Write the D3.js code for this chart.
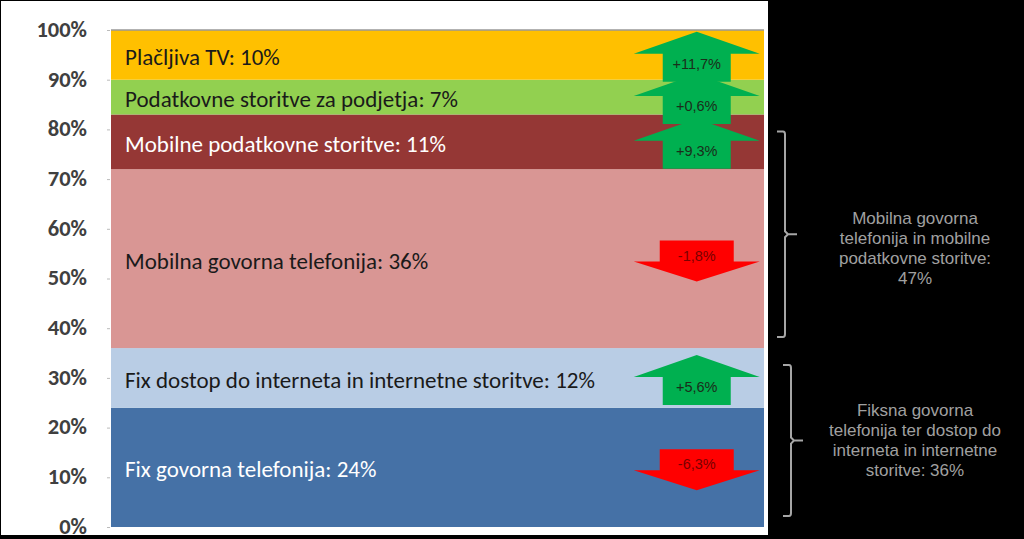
<!DOCTYPE html>
<html>
<head>
<meta charset="utf-8">
<script src="https://cdn.jsdelivr.net/npm/d3@7.9.0/dist/d3.min.js"></script>
<style>
  html, body { margin: 0; padding: 0; background: #000; }
  svg { display: block; }
</style>
</head>
<body>
<svg id="chart"></svg>
<script>
const width = 1024;
const height = 539;

// Data, bottom segment first
const categories = [
  "Fix govorna telefonija",
  "Fix dostop do interneta in internetne storitve",
  "Mobilna govorna telefonija",
  "Mobilne podatkovne storitve",
  "Podatkovne storitve za podjetja",
  "Plačljiva TV"
];
const shares = [24, 12, 36, 11, 7, 10];
const changes = [-6.3, 5.6, -1.8, 9.3, 0.6, 11.7];
const yTicks = [0, 10, 20, 30, 40, 50, 60, 70, 80, 90, 100];

// Bracket groups on the right (indexes into categories)
const groupLabels = [
  ["Fiksna govorna", "telefonija ter dostop do", "interneta in internetne", "storitve: 36%"],
  ["Mobilna govorna", "telefonija in mobilne", "podatkovne storitve:", "47%"]
];
const groupMembers = [[0, 1], [2, 3]];

const fills = ["#4571a6", "#b9cde5", "#d99694", "#953735", "#92d050", "#ffc000"];
const labelColors = ["#ffffff", "#1a1a1a", "#1a1a1a", "#ffffff", "#1a1a1a", "#1a1a1a"];

// layout tweaks for the bracket annotations (lower, upper)
const bracketXs = [791, 785];
const groupTextShift = [0, 14];

const svg = d3.select("#chart").attr("width", width).attr("height", height);

// black background + white plot panel
svg.append("rect").attr("width", width).attr("height", height).attr("fill", "#000");
svg.append("rect").attr("x", 1).attr("y", 1).attr("width", 767).attr("height", 534).attr("fill", "#fff");

const y = d3.scaleLinear().domain([0, 100]).range([527, 30]);
const x = d3.scaleBand().domain(["2010"]).range([111, 764]).padding(0);

const ends = d3.cumsum(shares);
const segs = categories.map((c, i) => ({
  name: c,
  share: shares[i],
  change: changes[i],
  y0: ends[i] - shares[i],
  y1: ends[i],
  fill: fills[i],
  color: labelColors[i]
}));

// y axis
const axis = d3.axisLeft(y)
  .tickValues(yTicks)
  .tickFormat(d => d + "%")
  .tickSize(3)
  .tickPadding(20);

const gAxis = svg.append("g")
  .attr("transform", `translate(${x.range()[0] - 1},0)`)
  .call(axis);
gAxis.select(".domain").remove();
gAxis.selectAll(".tick line").attr("stroke", "#bbb");
gAxis.selectAll(".tick text")
  .attr("fill", "#404040")
  .attr("dy", "0.28em")
  .style("font-family", "Carlito, Lato, 'Open Sans', sans-serif")
  .style("font-weight", "bold")
  .style("font-size", "22.5px");

// stacked segments
const bx = x("2010");
const bw = x.bandwidth();

svg.append("g").selectAll("rect")
  .data(segs)
  .join("rect")
  .attr("x", bx)
  .attr("y", d => y(d.y1))
  .attr("width", bw)
  .attr("height", d => y(d.y0) - y(d.y1))
  .attr("fill", d => d.fill);

// subtle top edge of the bar
svg.append("line")
  .attr("x1", bx).attr("x2", bx + bw)
  .attr("y1", y(100)).attr("y2", y(100))
  .attr("stroke", "#999").attr("stroke-width", 1.5);

// segment labels
svg.append("g").selectAll("text")
  .data(segs)
  .join("text")
  .attr("x", bx + 14)
  .attr("y", d => y((d.y0 + d.y1) / 2) + 2)
  .attr("dominant-baseline", "central")
  .attr("fill", d => d.color)
  .style("font-family", "Carlito, Lato, 'Open Sans', sans-serif")
  .style("font-size", "23px")
  .text(d => `${d.name}: ${d.share}%`);

// change arrows
const ax = bx + bw * 0.897;
const upArrow = "M0,-25 L63,-3 L34,-3 L34,25 L-34,25 L-34,-3 L-63,-3 Z";
const downArrow = "M-37,-20 L37,-20 L37,1 L63,1 L0,21 L-63,1 L-37,1 Z";
const fmt = v => (v > 0 ? "+" : "-") + Math.abs(v).toFixed(1).replace(".", ",") + "%";

const arrows = svg.append("g").selectAll("g")
  .data(segs)
  .join("g")
  .attr("transform", d => `translate(${ax},${y((d.y0 + d.y1) / 2) + 2})`);

arrows.append("path")
  .attr("d", d => d.change > 0 ? upArrow : downArrow)
  .attr("fill", d => d.change > 0 ? "#00b050" : "#ff0000");

arrows.append("text")
  .attr("y", d => d.change > 0 ? 7 : -5)
  .attr("text-anchor", "middle")
  .attr("dominant-baseline", "central")
  .attr("fill", d => d.change > 0 ? "#1a2e1a" : "#7a0000")
  .style("font-family", "'Liberation Sans', Arial, sans-serif")
  .style("font-size", "14.5px")
  .text(d => fmt(d.change));

// brackets + group labels in the black area
groupMembers.forEach((m, gi) => {
  const lo = segs[m[0]].y0;
  const hi = segs[m[m.length - 1]].y1;
  const top = y(hi) + 17;
  const bot = y(lo) - 11;
  const mid = (top + bot) / 2;
  const bxr = bracketXs[gi];

  svg.append("path")
    .attr("d", `M${bxr - 8},${top} L${bxr - 2},${top} Q${bxr},${top} ${bxr},${top + 3} L${bxr},${mid - 3} L${bxr + 3},${mid} L${bxr + 12},${mid} M${bxr + 3},${mid} L${bxr},${mid + 3} L${bxr},${bot - 3} Q${bxr},${bot} ${bxr - 2},${bot} L${bxr - 8},${bot}`)
    .attr("fill", "none")
    .attr("stroke", "#a6a6a6")
    .attr("stroke-width", 2);

  const lines = groupLabels[gi];
  const cy = mid + groupTextShift[gi];
  svg.append("text")
    .attr("x", 915)
    .attr("y", cy - (lines.length - 1) * 10)
    .attr("text-anchor", "middle")
    .attr("fill", "#a0a0a0")
    .style("font-family", "'Liberation Sans', Arial, sans-serif")
    .style("font-size", "17px")
    .selectAll("tspan")
    .data(lines)
    .join("tspan")
    .attr("x", 915)
    .attr("dy", (d, i) => i === 0 ? "0.35em" : 20)
    .text(d => d);
});
</script>
</body>
</html>
